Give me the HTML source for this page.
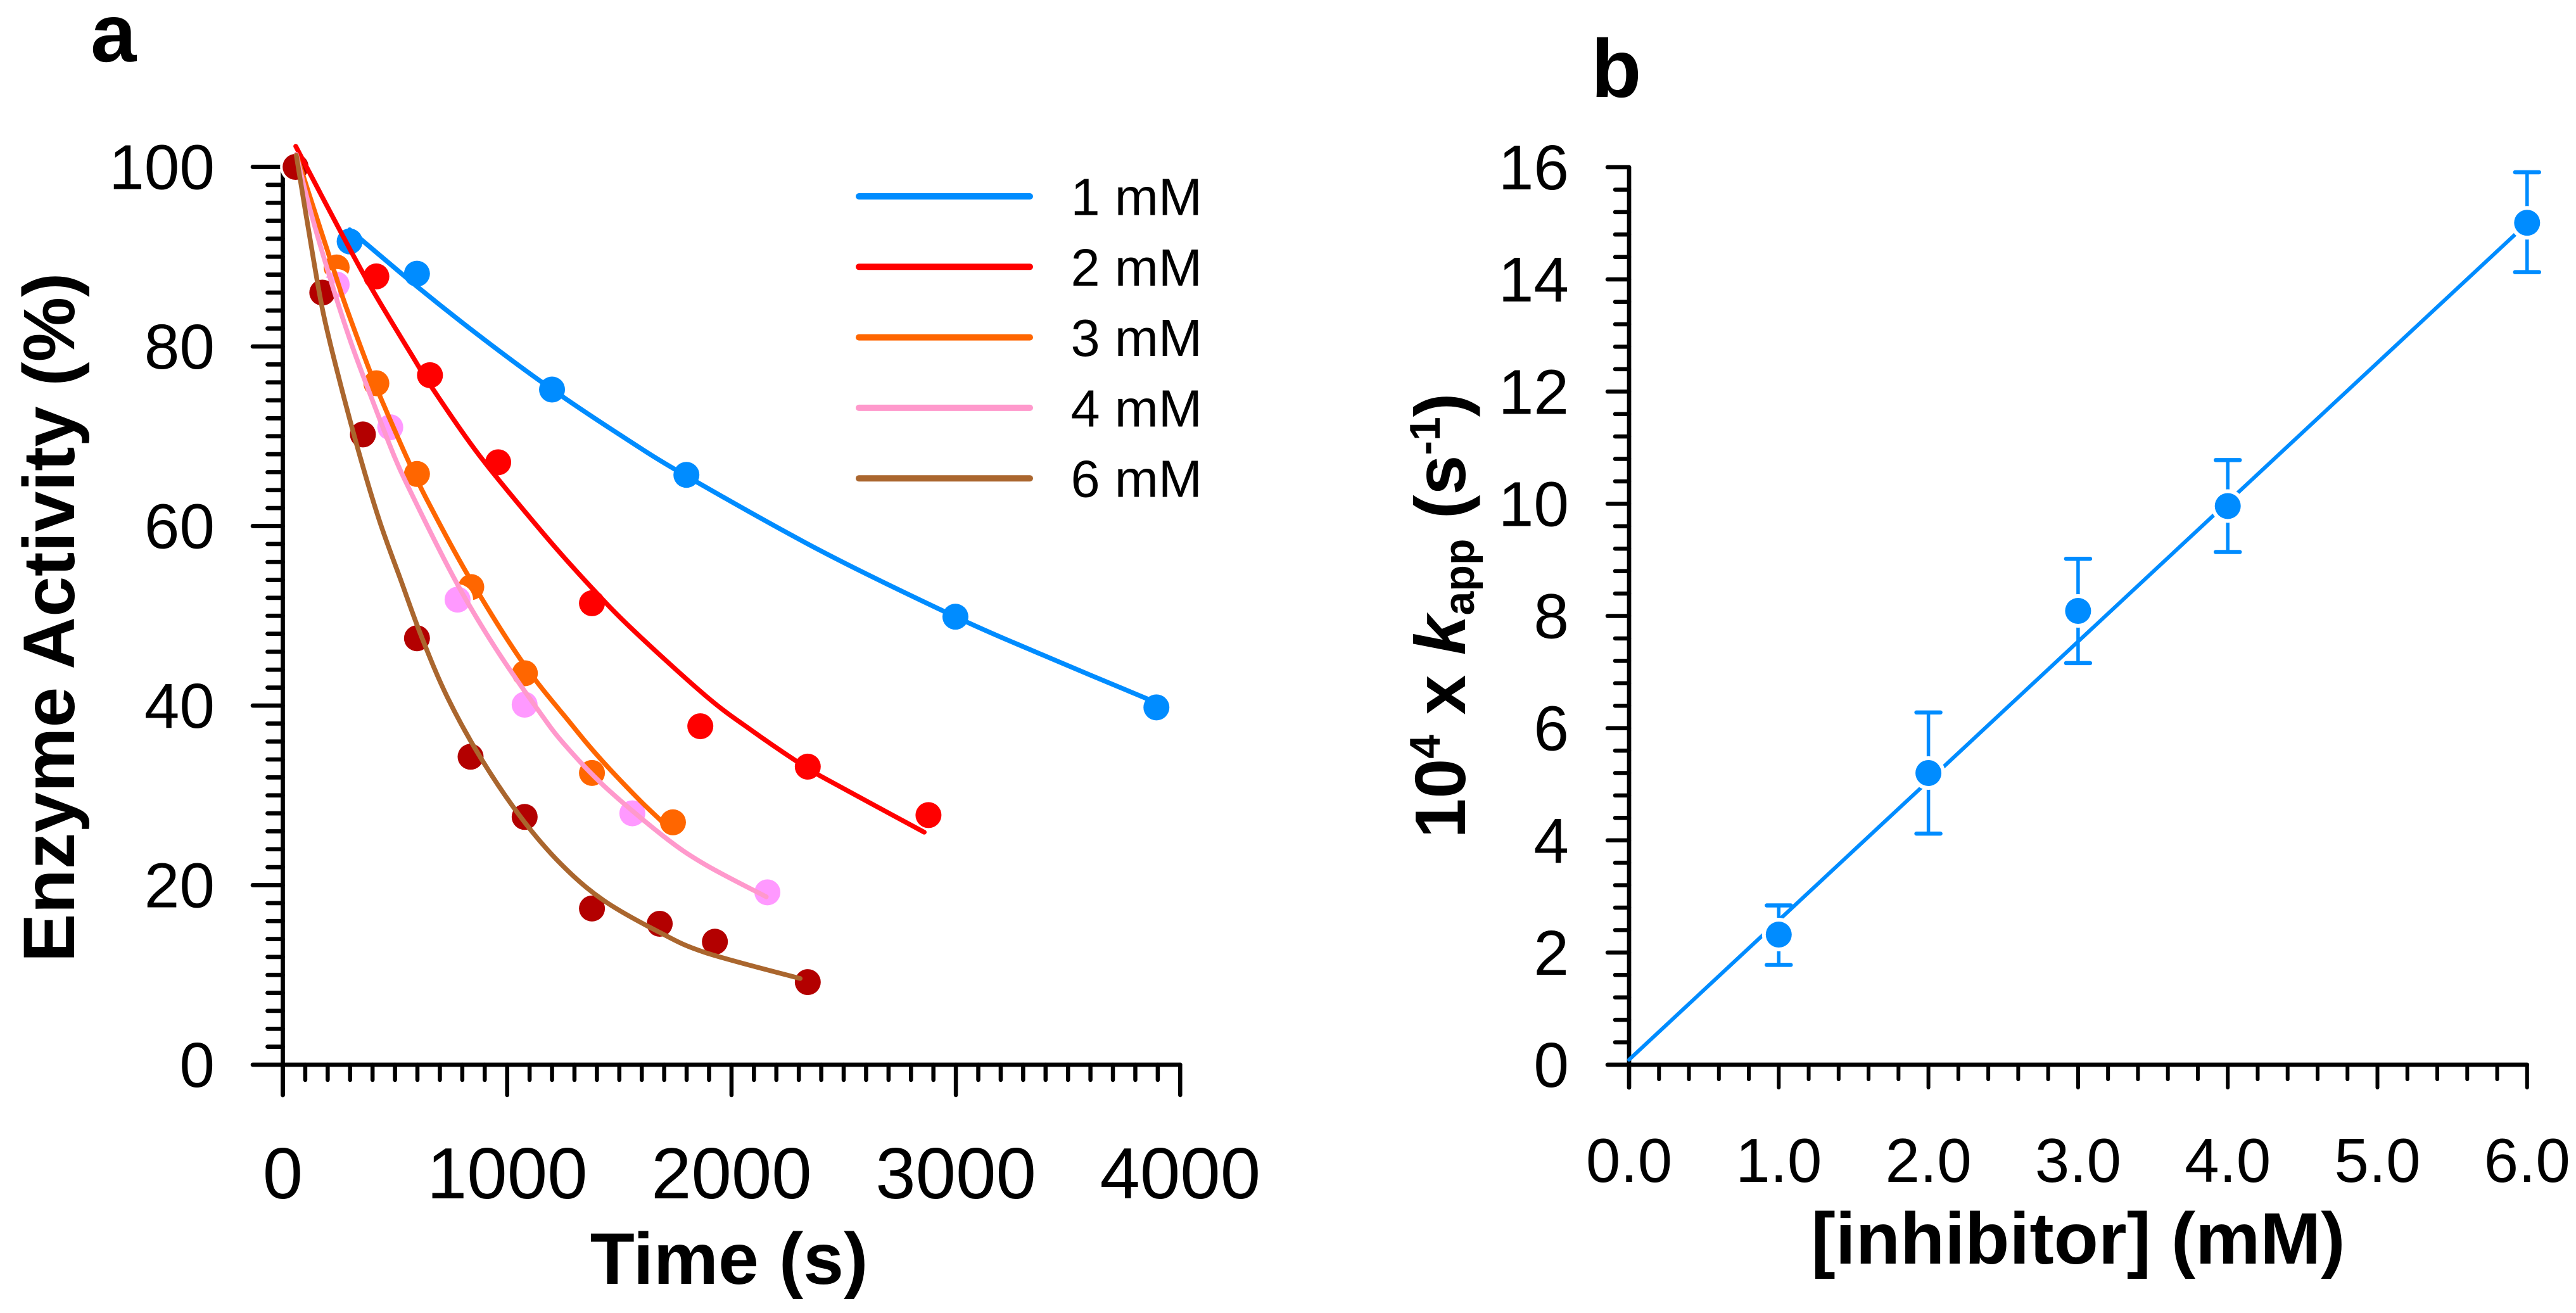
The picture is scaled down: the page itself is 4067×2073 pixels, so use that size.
<!DOCTYPE html>
<html lang="en">
<head>
<meta charset="utf-8">
<title>Enzyme inactivation kinetics</title>
<style>
html,body{margin:0;padding:0;background:#fff;}
body{width:4067px;height:2073px;overflow:hidden;}
svg{display:block;font-family:"Liberation Sans",Arial,sans-serif;}
text{fill:#000;}
.t{font-weight:700;}
</style>
</head>
<body>
<svg id="fig" xmlns="http://www.w3.org/2000/svg" width="4067" height="2073" viewBox="0 0 4067 2073">
  <rect width="4067" height="2073" fill="#fff"/>
  <g id="panelA"></g>
  <g id="panelB"></g>
  <text class="t" x="143" y="97" font-size="130">a</text>
  <text class="t" x="2512" y="153" font-size="130">b</text>
  <text class="t" x="1151" y="2027" font-size="115" text-anchor="middle">Time (s)</text>
  <text class="t" transform="translate(117,975) rotate(-90)" font-size="115" text-anchor="middle">Enzyme Activity (%)</text>
  <text class="t" x="3281" y="1995" font-size="115" text-anchor="middle">[inhibitor] (mM)</text>
  <text class="t" transform="translate(2313,972) rotate(-90)" font-size="113" text-anchor="middle">10<tspan font-size="68" dy="-40">4</tspan><tspan dy="40"> x </tspan><tspan font-style="italic">k</tspan><tspan font-size="68" dy="14">app</tspan><tspan dy="-14"> (s</tspan><tspan font-size="68" dy="-40">-1</tspan><tspan dy="40">)</tspan></text>
</svg>
<script>
// Panel A: tick labels
const timeTicks = [0, 1000, 2000, 3000, 4000];
const activityTicks = [0, 20, 40, 60, 80, 100];
// Panel A: legend
const seriesLabels = ['1 mM', '2 mM', '3 mM', '4 mM', '6 mM'];
// Panel A: measured points
const times1mM = [298, 598, 1200, 1799, 2998, 3894];
const activity1mM = [91.7, 88.1, 75.2, 65.7, 49.9, 39.8];
const times2mM = [417, 656, 960, 1378, 1861, 2340, 2878];
const activity2mM = [87.8, 76.8, 67.1, 51.4, 37.7, 33.2, 27.8];
const times3mM = [240, 417, 598, 840, 1079, 1378, 1739];
const activity3mM = [88.8, 75.9, 65.8, 53.2, 43.6, 32.5, 27.0];
const times4mM = [240, 479, 779, 1078, 1558, 2160];
const activity4mM = [86.9, 71.0, 51.8, 40.1, 28.0, 19.2];
const times6mM = [57, 176, 357, 598, 837, 1078, 1378, 1680, 1926, 2340];
const activity6mM = [100, 86.0, 70.2, 47.5, 34.3, 27.6, 17.4, 15.7, 13.7, 9.2];
// Panel A: fitted curves
const fitTimes1mM = [298, 602, 865, 1167, 1500, 1797, 2401, 2998, 3372, 3896];
const fitActivity1mM = [93.0, 86.6, 81.4, 75.8, 70.2, 65.6, 57.2, 49.9, 45.8, 40.3];
const fitTimes2mM = [57.5, 253, 395, 583, 668, 875, 1167, 1374, 1562, 1889, 2086, 2284, 2401, 2859];
const fitActivity2mM = [102.3, 93.0, 86.5, 78.7, 75.3, 67.9, 59.0, 53.2, 48.4, 41.0, 37.3, 33.9, 32.1, 25.9];
const fitTimes3mM = [60, 170, 234, 282, 395, 460, 555, 639, 828, 1072, 1280, 1411, 1581, 1685, 1722];
const fitActivity3mM = [101.4, 92.9, 88.0, 84.4, 76.8, 72.9, 67.5, 63.1, 54.4, 44.7, 38.1, 34.2, 29.7, 27.2, 26.3];
const fitTimes4mM = [60, 121, 206, 300, 395, 498, 564, 715, 828, 969, 1138, 1251, 1430, 1694, 1882, 2155];
const fitActivity4mM = [101.4, 95.3, 88.0, 80.7, 74.3, 67.7, 64.1, 56.5, 51.3, 45.6, 39.5, 35.8, 31.1, 25.5, 22.3, 18.7];
const fitTimes6mM = [60, 112, 178, 253, 347, 432, 527, 621, 734, 884, 1063, 1242, 1430, 1675, 1882, 2306];
const fitActivity6mM = [101.3, 93.4, 84.0, 76.2, 67.5, 60.5, 53.9, 47.5, 40.9, 34.1, 27.5, 22.3, 18.3, 14.8, 12.5, 9.6];

// Panel B: tick labels
const inhibitorTicks = ['0.0', '1.0', '2.0', '3.0', '4.0', '5.0', '6.0'];
const kappTicks = [0, 2, 4, 6, 8, 10, 12, 14, 16];
// Panel B: measured points
const inhibitorConc = [1, 2, 3, 4, 6];
const kappValues = [2.32, 5.2, 8.09, 9.96, 15.01];
const kappUpper = [2.84, 6.28, 9.02, 10.78, 15.91];
const kappLower = [1.78, 4.12, 7.16, 9.14, 14.13];
// Panel B: fitted line
const fitConc = [0, 6];
const fitKapp = [0.09, 15.0];

const NS = 'http://www.w3.org/2000/svg';
const panelA = document.getElementById('panelA');
const panelB = document.getElementById('panelB');

const xA = t => 446.5 + t * 0.3542;
const yA = v => 1681 - v * 14.175;
const xB = c => 2572 + c * 236.3;
const yB = k => 1681 - k * 88.56;

function drawLine(parent, x1, y1, x2, y2, width, color, name) {
  const el = document.createElementNS(NS, 'line');
  el.setAttribute('x1', x1);
  el.setAttribute('y1', y1);
  el.setAttribute('x2', x2);
  el.setAttribute('y2', y2);
  el.setAttribute('stroke', color);
  el.setAttribute('stroke-width', width);
  el.setAttribute('stroke-linecap', 'round');
  
  
  parent.appendChild(el);
  return el;
}
function drawText(parent, x, y, size, anchor, content, name) {
  const el = document.createElementNS(NS, 'text');
  el.setAttribute('x', x);
  el.setAttribute('y', y);
  el.setAttribute('font-size', size);
  el.setAttribute('text-anchor', anchor);
  el.textContent = content;
  
  
  parent.appendChild(el);
  return el;
}
function drawDot(parent, cx, cy, r, color, halo, name) {
  const el = document.createElementNS(NS, 'circle');
  el.setAttribute('cx', cx);
  el.setAttribute('cy', cy);
  el.setAttribute('r', r + halo / 2);
  el.setAttribute('fill', '#fff');
  
  
  parent.appendChild(el);
  const dot = document.createElementNS(NS, 'circle');
  dot.setAttribute('cx', cx);
  dot.setAttribute('cy', cy);
  dot.setAttribute('r', r);
  dot.setAttribute('fill', color);
  
  
  parent.appendChild(dot);
}
function drawCurve(parent, xs, ys, width, color, name) {
  let d = 'M' + xs[0].toFixed(1) + ' ' + ys[0].toFixed(1);
  for (let i = 0; i < xs.length - 1; i++) {
    const i0 = Math.max(i - 1, 0);
    const i3 = Math.min(i + 2, xs.length - 1);
    const c1x = xs[i] + (xs[i + 1] - xs[i0]) / 6;
    const c1y = ys[i] + (ys[i + 1] - ys[i0]) / 6;
    const c2x = xs[i + 1] - (xs[i3] - xs[i]) / 6;
    const c2y = ys[i + 1] - (ys[i3] - ys[i]) / 6;
    d += 'C' + c1x.toFixed(1) + ' ' + c1y.toFixed(1) + ' ' + c2x.toFixed(1) + ' ' + c2y.toFixed(1) + ' ' + xs[i + 1].toFixed(1) + ' ' + ys[i + 1].toFixed(1);
  }
  const el = document.createElementNS(NS, 'path');
  el.setAttribute('d', d);
  el.setAttribute('fill', 'none');
  el.setAttribute('stroke', color);
  el.setAttribute('stroke-width', width);
  el.setAttribute('stroke-linecap', 'round');
  el.setAttribute('stroke-linejoin', 'round');
  
  
  parent.appendChild(el);
}

/* ---------- Panel A axes ---------- */
drawLine(panelA, 446.5, yA(100), 446.5, 1729, 6.7, '#000', 'panel-a-y-axis-line');
drawLine(panelA, 399, 1681, xA(4000), 1681, 6.7, '#000', 'panel-a-x-axis-line');
for (let t = 0; t <= 4000; t += 100) {
  const major = t % 1000 === 0;
  drawLine(panelA, xA(t), 1681, xA(t), major ? 1729 : 1705, 6.5, '#000', major ? 'panel-a-x-major-tick' : 'panel-a-x-minor-tick');
}
for (let v = 2; v <= 100; v += 2) {
  const major = v % 20 === 0;
  drawLine(panelA, major ? 399 : 422.5, yA(v), 446.5, yA(v), 6.7, '#000', major ? 'panel-a-y-major-tick' : 'panel-a-y-minor-tick');
}
timeTicks.forEach(t => {
  drawText(panelA, xA(t), 1892, 114, 'middle', String(t), 'panel-a-x-tick-label');
});
activityTicks.forEach(v => {
  drawText(panelA, 339, yA(v) + 35, 100, 'end', String(v), 'panel-a-y-tick-label');
});

/* ---------- Panel A series ---------- */
const seriesDots = ['#008cff', '#ff0000', '#ff6600', '#ff99ff', '#b30000'];
const seriesLines = ['#008cff', '#ff0000', '#ff6600', '#ff99cc', '#aa662e'];
const allTimes = [times1mM, times2mM, times3mM, times4mM, times6mM];
const allActivity = [activity1mM, activity2mM, activity3mM, activity4mM, activity6mM];
const allFitTimes = [fitTimes1mM, fitTimes2mM, fitTimes3mM, fitTimes4mM, fitTimes6mM];
const allFitActivity = [fitActivity1mM, fitActivity2mM, fitActivity3mM, fitActivity4mM, fitActivity6mM];

seriesLabels.forEach((label, s) => {
  const slug = label.replace(' ', '-').toLowerCase();
  allTimes[s].forEach((t, i) => {
    drawDot(panelA, xA(t), yA(allActivity[s][i]), 20.5, seriesDots[s], 8, 'point-' + slug);
  });
});
seriesLabels.forEach((label, s) => {
  const slug = label.replace(' ', '-').toLowerCase();
  drawCurve(panelA, allFitTimes[s].map(xA), allFitActivity[s].map(yA), 7.5, seriesLines[s], 'fit-curve-' + slug);
});

/* ---------- Panel A legend ---------- */
seriesLabels.forEach((label, s) => {
  const rowY = 310 + s * 111.3;
  const slug = label.replace(' ', '-').toLowerCase();
  drawLine(panelA, 1356, rowY, 1626, rowY, 10, seriesLines[s], 'legend-line-' + slug);
  drawText(panelA, 1690.5, rowY + 29.5, 83, 'start', label, 'legend-label-' + slug);
});

/* ---------- Panel B axes ---------- */
drawLine(panelB, 2572, yB(16), 2572, 1717, 6.7, '#000', 'panel-b-y-axis-line');
drawLine(panelB, 2538, 1681, xB(6), 1681, 6.7, '#000', 'panel-b-x-axis-line');
for (let i = 0; i <= 30; i++) {
  const c = i / 5;
  const major = i % 5 === 0;
  drawLine(panelB, xB(c), 1681, xB(c), major ? 1717 : 1704, 6, '#000', major ? 'panel-b-x-major-tick' : 'panel-b-x-minor-tick');
}
for (let i = 1; i <= 40; i++) {
  const k = i * 0.4;
  const major = i % 5 === 0;
  drawLine(panelB, major ? 2538 : 2550, yB(k), 2572, yB(k), 6.5, '#000', major ? 'panel-b-y-major-tick' : 'panel-b-y-minor-tick');
}
inhibitorTicks.forEach(label => {
  drawText(panelB, xB(parseFloat(label)), 1866, 98, 'middle', label, 'panel-b-x-tick-label');
});
kappTicks.forEach(k => {
  drawText(panelB, 2477, yB(k) + 35, 100, 'end', String(k), 'panel-b-y-tick-label');
});

/* ---------- Panel B series ---------- */
const bColor = '#008cff';
drawLine(panelB, xB(fitConc[0]), yB(fitKapp[0]), xB(fitConc[1]), yB(fitKapp[1]), 6, bColor, 'fit-line');
inhibitorConc.forEach((c, i) => {
  const x = xB(c);
  drawLine(panelB, x, yB(kappUpper[i]), x, yB(kappLower[i]), 5.5, bColor, 'error-bar');
  drawLine(panelB, x - 19, yB(kappUpper[i]), x + 19, yB(kappUpper[i]), 6.5, bColor, 'error-cap-upper');
  drawLine(panelB, x - 19, yB(kappLower[i]), x + 19, yB(kappLower[i]), 6.5, bColor, 'error-cap-lower');
  drawDot(panelB, x, yB(kappValues[i]), 20.5, bColor, 12, 'point-kapp');
});
</script>
</body>
</html>
